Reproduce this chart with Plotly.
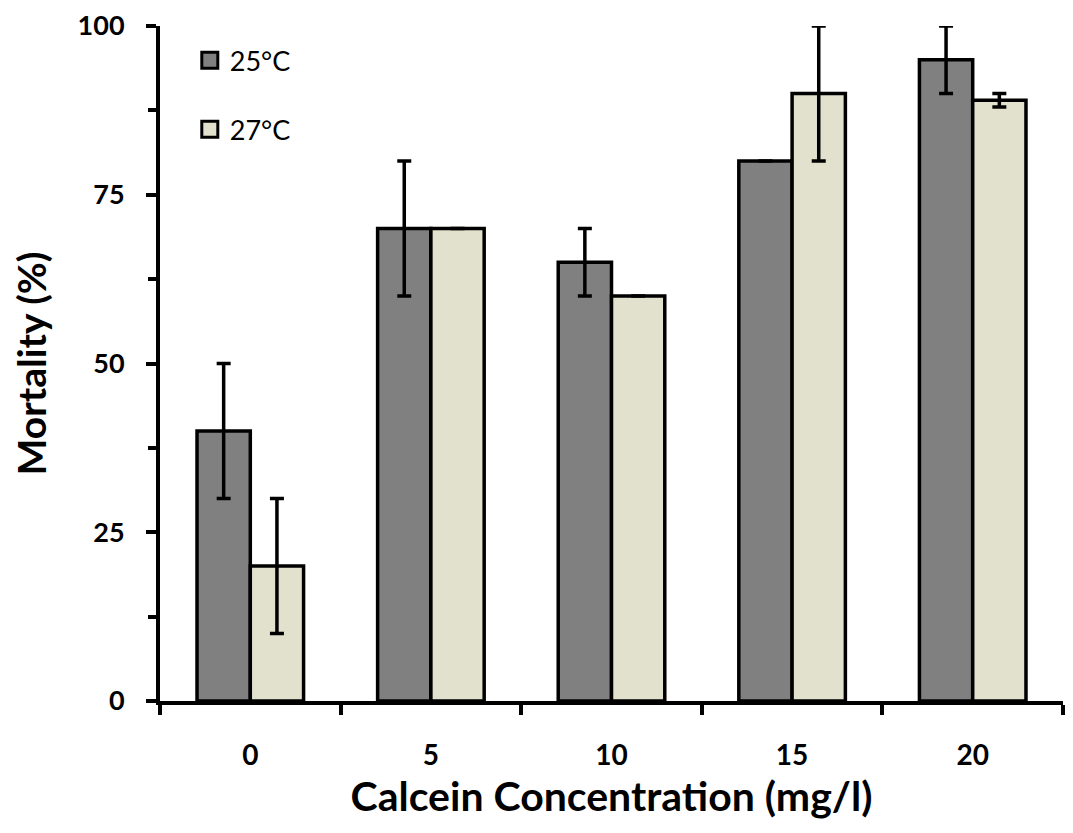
import plotly.graph_objects as go

categories = ["0", "5", "10", "15", "20"]
s25_name = "25°C"
s27_name = "27°C"
s25_values = [40, 70, 65, 80, 95]
s25_err = [10, 10, 5, 0, 5]
s27_values = [20, 70, 60, 90, 89]
s27_err = [10, 0, 0, 10, 1]
y_ticks = [0, 25, 50, 75, 100]
y_minor = [12.5, 37.5, 62.5, 87.5]

C25 = "#808080"
C27 = "#e2e1cd"
FONT = "Lato"

fig = go.Figure()
fig.add_trace(go.Bar(
    x=categories, y=s25_values, name=s25_name, showlegend=False,
    marker=dict(color=C25, line=dict(color="black", width=3.5)),
    error_y=dict(type="data", array=s25_err, visible=True, color="black", thickness=3.5, width=7),
))
fig.add_trace(go.Bar(
    x=categories, y=s27_values, name=s27_name, showlegend=False,
    marker=dict(color=C27, line=dict(color="black", width=3.5)),
    error_y=dict(type="data", array=s27_err, visible=True, color="black", thickness=3.5, width=7),
))
# legend entries with larger square swatches
for nm, col, grp in [(s25_name, C25, "a"), (s27_name, C27, "b")]:
    fig.add_trace(go.Scatter(
        x=[None], y=[None], mode="markers", name=nm, legendgroup=grp,
        marker=dict(symbol="square", size=19, color=col, line=dict(color="black", width=3)),
    ))

fig.update_layout(
    width=1073, height=833,
    paper_bgcolor="white", plot_bgcolor="white",
    margin=dict(l=152, r=18, t=18, b=140, autoexpand=False),
    barmode="group", bargap=0.41, bargroupgap=0,
    font=dict(family=FONT, color="black"),
    legend=dict(x=0.033, y=0.985, xanchor="left", yanchor="top",
                font=dict(size=27, family=FONT), tracegroupgap=31,
                itemwidth=30,
                bgcolor="rgba(0,0,0,0)"),
    xaxis=dict(
        type="category", showline=True, linecolor="black", linewidth=4,
        ticks="outside", tickson="boundaries", ticklen=10, tickwidth=4, tickcolor="black",
        tickfont=dict(size=28, family=FONT, weight="bold"), ticklabelstandoff=26,
        ticklabeloverflow="allow", automargin=False,
        title=dict(text="Calcein Concentration (mg/l)", font=dict(size=41, family=FONT, weight="bold"), standoff=14),
        showgrid=False, zeroline=False,
    ),
    yaxis=dict(
        range=[0, 100], tickvals=y_ticks, showline=True, linecolor="black", linewidth=4,
        ticks="outside", ticklen=10, tickwidth=4, tickcolor="black",
        minor=dict(tickvals=y_minor, ticks="outside", ticklen=8, tickwidth=4, tickcolor="black"),
        tickfont=dict(size=27, family=FONT, weight="bold"), ticklabelstandoff=16,
        ticklabeloverflow="allow", automargin=False,
        title=dict(text="Mortality (%)", font=dict(size=39, family=FONT, weight="bold"), standoff=20),
        showgrid=False, zeroline=False,
    ),
)

fig.write_html("out.html")
